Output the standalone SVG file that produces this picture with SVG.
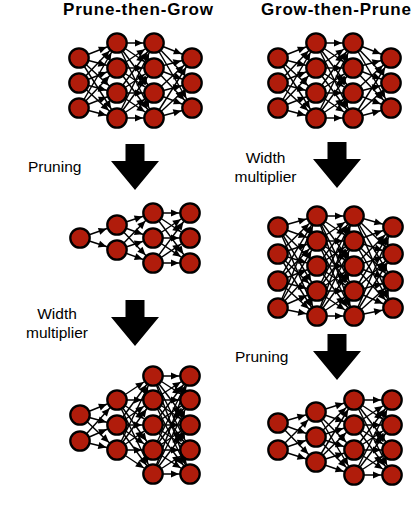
<svg xmlns="http://www.w3.org/2000/svg" width="414" height="522" viewBox="0 0 414 522">
<style>
.t{font-family:"Liberation Sans",Arial,sans-serif;font-weight:bold;font-size:17px;fill:#000}
.l{font-family:"Liberation Sans",Arial,sans-serif;font-size:15.5px;fill:#000}
.cx path{stroke:#000;stroke-width:1.45;fill:none;marker-end:url(#ah)}
.n circle{fill:#b01c0b;stroke:#000;stroke-width:2.3}
.big{fill:#000}
</style>
<defs>
<marker id="ah" markerUnits="userSpaceOnUse" markerWidth="10" markerHeight="10" refX="11" refY="0" orient="auto" overflow="visible"><path d="M-8,-3.6L0,0L-8,3.6z" fill="#000"/></marker>
<path id="bigArrow" d="M-9.5,-46H9.5V-29H24L0,0L-24,-29H-9.5Z"/>
</defs>
<rect width="414" height="522" fill="#fff"/>
<text class="t" x="138" y="15" text-anchor="middle" textLength="150" lengthAdjust="spacing">Prune-then-Grow</text>
<text class="t" x="336" y="15" text-anchor="middle" textLength="150" lengthAdjust="spacing">Grow-then-Prune</text>
<g id="connectors" class="cx">
<g id="tl-edges">
<path d="M79 58L117 43"/><path d="M79 58L117 68"/><path d="M79 58L117 93"/><path d="M79 58L117 118"/>
<path d="M79 83L117 43"/><path d="M79 83L117 68"/><path d="M79 83L117 93"/><path d="M79 83L117 118"/>
<path d="M79 108L117 43"/><path d="M79 108L117 68"/><path d="M79 108L117 93"/><path d="M79 108L117 118"/>
<path d="M117 43L154 43"/><path d="M117 43L154 68"/><path d="M117 43L154 93"/><path d="M117 43L154 118"/>
<path d="M117 68L154 43"/><path d="M117 68L154 68"/><path d="M117 68L154 93"/><path d="M117 68L154 118"/>
<path d="M117 93L154 43"/><path d="M117 93L154 68"/><path d="M117 93L154 93"/><path d="M117 93L154 118"/>
<path d="M117 118L154 43"/><path d="M117 118L154 68"/><path d="M117 118L154 93"/><path d="M117 118L154 118"/>
<path d="M154 43L192 58"/><path d="M154 43L192 83"/><path d="M154 43L192 108"/>
<path d="M154 68L192 58"/><path d="M154 68L192 83"/><path d="M154 68L192 108"/>
<path d="M154 93L192 58"/><path d="M154 93L192 83"/><path d="M154 93L192 108"/>
<path d="M154 118L192 58"/><path d="M154 118L192 83"/><path d="M154 118L192 108"/>
</g>
<g id="tr-edges" transform="translate(199,0)">
<path d="M79 58L117 43"/><path d="M79 58L117 68"/><path d="M79 58L117 93"/><path d="M79 58L117 118"/>
<path d="M79 83L117 43"/><path d="M79 83L117 68"/><path d="M79 83L117 93"/><path d="M79 83L117 118"/>
<path d="M79 108L117 43"/><path d="M79 108L117 68"/><path d="M79 108L117 93"/><path d="M79 108L117 118"/>
<path d="M117 43L154 43"/><path d="M117 43L154 68"/><path d="M117 43L154 93"/><path d="M117 43L154 118"/>
<path d="M117 68L154 43"/><path d="M117 68L154 68"/><path d="M117 68L154 93"/><path d="M117 68L154 118"/>
<path d="M117 93L154 43"/><path d="M117 93L154 68"/><path d="M117 93L154 93"/><path d="M117 93L154 118"/>
<path d="M117 118L154 43"/><path d="M117 118L154 68"/><path d="M117 118L154 93"/><path d="M117 118L154 118"/>
<path d="M154 43L192 58"/><path d="M154 43L192 83"/><path d="M154 43L192 108"/>
<path d="M154 68L192 58"/><path d="M154 68L192 83"/><path d="M154 68L192 108"/>
<path d="M154 93L192 58"/><path d="M154 93L192 83"/><path d="M154 93L192 108"/>
<path d="M154 118L192 58"/><path d="M154 118L192 83"/><path d="M154 118L192 108"/>
</g>
<g id="ml-edges">
<path d="M80 238L117 225"/><path d="M80 238L117 250"/>
<path d="M117 225L153 213"/><path d="M117 225L153 238"/><path d="M117 225L153 263"/>
<path d="M117 250L153 213"/><path d="M117 250L153 238"/><path d="M117 250L153 263"/>
<path d="M153 213L190 213"/><path d="M153 213L190 238"/><path d="M153 213L190 263"/>
<path d="M153 238L190 213"/><path d="M153 238L190 238"/><path d="M153 238L190 263"/>
<path d="M153 263L190 213"/><path d="M153 263L190 238"/><path d="M153 263L190 263"/>
</g>
<g id="mr-edges">
<path d="M278 227L317 216"/><path d="M278 227L317 241"/><path d="M278 227L317 266"/><path d="M278 227L317 291"/><path d="M278 227L317 316"/>
<path d="M278 254L317 216"/><path d="M278 254L317 241"/><path d="M278 254L317 266"/><path d="M278 254L317 291"/><path d="M278 254L317 316"/>
<path d="M278 281L317 216"/><path d="M278 281L317 241"/><path d="M278 281L317 266"/><path d="M278 281L317 291"/><path d="M278 281L317 316"/>
<path d="M278 308L317 216"/><path d="M278 308L317 241"/><path d="M278 308L317 266"/><path d="M278 308L317 291"/><path d="M278 308L317 316"/>
<path d="M317 216L354 216"/><path d="M317 216L354 241"/><path d="M317 216L354 266"/><path d="M317 216L354 291"/><path d="M317 216L354 316"/>
<path d="M317 241L354 216"/><path d="M317 241L354 241"/><path d="M317 241L354 266"/><path d="M317 241L354 291"/><path d="M317 241L354 316"/>
<path d="M317 266L354 216"/><path d="M317 266L354 241"/><path d="M317 266L354 266"/><path d="M317 266L354 291"/><path d="M317 266L354 316"/>
<path d="M317 291L354 216"/><path d="M317 291L354 241"/><path d="M317 291L354 266"/><path d="M317 291L354 291"/><path d="M317 291L354 316"/>
<path d="M317 316L354 216"/><path d="M317 316L354 241"/><path d="M317 316L354 266"/><path d="M317 316L354 291"/><path d="M317 316L354 316"/>
<path d="M354 216L393 227"/><path d="M354 216L393 254"/><path d="M354 216L393 281"/><path d="M354 216L393 308"/>
<path d="M354 241L393 227"/><path d="M354 241L393 254"/><path d="M354 241L393 281"/><path d="M354 241L393 308"/>
<path d="M354 266L393 227"/><path d="M354 266L393 254"/><path d="M354 266L393 281"/><path d="M354 266L393 308"/>
<path d="M354 291L393 227"/><path d="M354 291L393 254"/><path d="M354 291L393 281"/><path d="M354 291L393 308"/>
<path d="M354 316L393 227"/><path d="M354 316L393 254"/><path d="M354 316L393 281"/><path d="M354 316L393 308"/>
</g>
<g id="bl-edges">
<path d="M80 415L117 400"/><path d="M80 415L117 425"/><path d="M80 415L117 450"/>
<path d="M80 441L117 400"/><path d="M80 441L117 425"/><path d="M80 441L117 450"/>
<path d="M117 400L153 376"/><path d="M117 400L153 400"/><path d="M117 400L153 425"/><path d="M117 400L153 450"/><path d="M117 400L153 474"/>
<path d="M117 425L153 376"/><path d="M117 425L153 400"/><path d="M117 425L153 425"/><path d="M117 425L153 450"/><path d="M117 425L153 474"/>
<path d="M117 450L153 376"/><path d="M117 450L153 400"/><path d="M117 450L153 425"/><path d="M117 450L153 450"/><path d="M117 450L153 474"/>
<path d="M153 376L190 376"/><path d="M153 376L190 400"/><path d="M153 376L190 425"/><path d="M153 376L190 450"/><path d="M153 376L190 474"/>
<path d="M153 400L190 376"/><path d="M153 400L190 400"/><path d="M153 400L190 425"/><path d="M153 400L190 450"/><path d="M153 400L190 474"/>
<path d="M153 425L190 376"/><path d="M153 425L190 400"/><path d="M153 425L190 425"/><path d="M153 425L190 450"/><path d="M153 425L190 474"/>
<path d="M153 450L190 376"/><path d="M153 450L190 400"/><path d="M153 450L190 425"/><path d="M153 450L190 450"/><path d="M153 450L190 474"/>
<path d="M153 474L190 376"/><path d="M153 474L190 400"/><path d="M153 474L190 425"/><path d="M153 474L190 450"/><path d="M153 474L190 474"/>
</g>
<g id="br-edges">
<path d="M278 423L316 412"/><path d="M278 423L316 437"/><path d="M278 423L316 462"/>
<path d="M278 450L316 412"/><path d="M278 450L316 437"/><path d="M278 450L316 462"/>
<path d="M316 412L354 400"/><path d="M316 412L354 425"/><path d="M316 412L354 450"/><path d="M316 412L354 475"/>
<path d="M316 437L354 400"/><path d="M316 437L354 425"/><path d="M316 437L354 450"/><path d="M316 437L354 475"/>
<path d="M316 462L354 400"/><path d="M316 462L354 425"/><path d="M316 462L354 450"/><path d="M316 462L354 475"/>
<path d="M354 400L392 400"/><path d="M354 400L392 425"/><path d="M354 400L392 450"/><path d="M354 400L392 475"/>
<path d="M354 425L392 400"/><path d="M354 425L392 425"/><path d="M354 425L392 450"/><path d="M354 425L392 475"/>
<path d="M354 450L392 400"/><path d="M354 450L392 425"/><path d="M354 450L392 450"/><path d="M354 450L392 475"/>
<path d="M354 475L392 400"/><path d="M354 475L392 425"/><path d="M354 475L392 450"/><path d="M354 475L392 475"/>
</g>
</g>
<g id="nodes">
<g id="tl">
<g id="tl-a1" class="n"><circle cx="79" cy="58" r="9.7"/></g>
<g id="tl-a2" class="n"><circle cx="79" cy="83" r="9.7"/></g>
<g id="tl-a3" class="n"><circle cx="79" cy="108" r="9.7"/></g>
<g id="tl-b1" class="n"><circle cx="117" cy="43" r="9.7"/></g>
<g id="tl-b2" class="n"><circle cx="117" cy="68" r="9.7"/></g>
<g id="tl-b3" class="n"><circle cx="117" cy="93" r="9.7"/></g>
<g id="tl-b4" class="n"><circle cx="117" cy="118" r="9.7"/></g>
<g id="tl-c1" class="n"><circle cx="154" cy="43" r="9.7"/></g>
<g id="tl-c2" class="n"><circle cx="154" cy="68" r="9.7"/></g>
<g id="tl-c3" class="n"><circle cx="154" cy="93" r="9.7"/></g>
<g id="tl-c4" class="n"><circle cx="154" cy="118" r="9.7"/></g>
<g id="tl-d1" class="n"><circle cx="192" cy="58" r="9.7"/></g>
<g id="tl-d2" class="n"><circle cx="192" cy="83" r="9.7"/></g>
<g id="tl-d3" class="n"><circle cx="192" cy="108" r="9.7"/></g>
</g>
<g id="tr" transform="translate(199,0)">
<g id="tr-a1" class="n"><circle cx="79" cy="58" r="9.7"/></g>
<g id="tr-a2" class="n"><circle cx="79" cy="83" r="9.7"/></g>
<g id="tr-a3" class="n"><circle cx="79" cy="108" r="9.7"/></g>
<g id="tr-b1" class="n"><circle cx="117" cy="43" r="9.7"/></g>
<g id="tr-b2" class="n"><circle cx="117" cy="68" r="9.7"/></g>
<g id="tr-b3" class="n"><circle cx="117" cy="93" r="9.7"/></g>
<g id="tr-b4" class="n"><circle cx="117" cy="118" r="9.7"/></g>
<g id="tr-c1" class="n"><circle cx="154" cy="43" r="9.7"/></g>
<g id="tr-c2" class="n"><circle cx="154" cy="68" r="9.7"/></g>
<g id="tr-c3" class="n"><circle cx="154" cy="93" r="9.7"/></g>
<g id="tr-c4" class="n"><circle cx="154" cy="118" r="9.7"/></g>
<g id="tr-d1" class="n"><circle cx="192" cy="58" r="9.7"/></g>
<g id="tr-d2" class="n"><circle cx="192" cy="83" r="9.7"/></g>
<g id="tr-d3" class="n"><circle cx="192" cy="108" r="9.7"/></g>
</g>
<g id="ml">
<g id="ml-a1" class="n"><circle cx="80" cy="238" r="9.7"/></g>
<g id="ml-b1" class="n"><circle cx="117" cy="225" r="9.7"/></g>
<g id="ml-b2" class="n"><circle cx="117" cy="250" r="9.7"/></g>
<g id="ml-c1" class="n"><circle cx="153" cy="213" r="9.7"/></g>
<g id="ml-c2" class="n"><circle cx="153" cy="238" r="9.7"/></g>
<g id="ml-c3" class="n"><circle cx="153" cy="263" r="9.7"/></g>
<g id="ml-d1" class="n"><circle cx="190" cy="213" r="9.7"/></g>
<g id="ml-d2" class="n"><circle cx="190" cy="238" r="9.7"/></g>
<g id="ml-d3" class="n"><circle cx="190" cy="263" r="9.7"/></g>
</g>
<g id="mr">
<g id="mr-a1" class="n"><circle cx="278" cy="227" r="9.7"/></g>
<g id="mr-a2" class="n"><circle cx="278" cy="254" r="9.7"/></g>
<g id="mr-a3" class="n"><circle cx="278" cy="281" r="9.7"/></g>
<g id="mr-a4" class="n"><circle cx="278" cy="308" r="9.7"/></g>
<g id="mr-b1" class="n"><circle cx="317" cy="216" r="9.7"/></g>
<g id="mr-b2" class="n"><circle cx="317" cy="241" r="9.7"/></g>
<g id="mr-b3" class="n"><circle cx="317" cy="266" r="9.7"/></g>
<g id="mr-b4" class="n"><circle cx="317" cy="291" r="9.7"/></g>
<g id="mr-b5" class="n"><circle cx="317" cy="316" r="9.7"/></g>
<g id="mr-c1" class="n"><circle cx="354" cy="216" r="9.7"/></g>
<g id="mr-c2" class="n"><circle cx="354" cy="241" r="9.7"/></g>
<g id="mr-c3" class="n"><circle cx="354" cy="266" r="9.7"/></g>
<g id="mr-c4" class="n"><circle cx="354" cy="291" r="9.7"/></g>
<g id="mr-c5" class="n"><circle cx="354" cy="316" r="9.7"/></g>
<g id="mr-d1" class="n"><circle cx="393" cy="227" r="9.7"/></g>
<g id="mr-d2" class="n"><circle cx="393" cy="254" r="9.7"/></g>
<g id="mr-d3" class="n"><circle cx="393" cy="281" r="9.7"/></g>
<g id="mr-d4" class="n"><circle cx="393" cy="308" r="9.7"/></g>
</g>
<g id="bl">
<g id="bl-a1" class="n"><circle cx="80" cy="415" r="9.7"/></g>
<g id="bl-a2" class="n"><circle cx="80" cy="441" r="9.7"/></g>
<g id="bl-b1" class="n"><circle cx="117" cy="400" r="9.7"/></g>
<g id="bl-b2" class="n"><circle cx="117" cy="425" r="9.7"/></g>
<g id="bl-b3" class="n"><circle cx="117" cy="450" r="9.7"/></g>
<g id="bl-c1" class="n"><circle cx="153" cy="376" r="9.7"/></g>
<g id="bl-c2" class="n"><circle cx="153" cy="400" r="9.7"/></g>
<g id="bl-c3" class="n"><circle cx="153" cy="425" r="9.7"/></g>
<g id="bl-c4" class="n"><circle cx="153" cy="450" r="9.7"/></g>
<g id="bl-c5" class="n"><circle cx="153" cy="474" r="9.7"/></g>
<g id="bl-d1" class="n"><circle cx="190" cy="376" r="9.7"/></g>
<g id="bl-d2" class="n"><circle cx="190" cy="400" r="9.7"/></g>
<g id="bl-d3" class="n"><circle cx="190" cy="425" r="9.7"/></g>
<g id="bl-d4" class="n"><circle cx="190" cy="450" r="9.7"/></g>
<g id="bl-d5" class="n"><circle cx="190" cy="474" r="9.7"/></g>
</g>
<g id="br">
<g id="br-a1" class="n"><circle cx="278" cy="423" r="9.7"/></g>
<g id="br-a2" class="n"><circle cx="278" cy="450" r="9.7"/></g>
<g id="br-b1" class="n"><circle cx="316" cy="412" r="9.7"/></g>
<g id="br-b2" class="n"><circle cx="316" cy="437" r="9.7"/></g>
<g id="br-b3" class="n"><circle cx="316" cy="462" r="9.7"/></g>
<g id="br-c1" class="n"><circle cx="354" cy="400" r="9.7"/></g>
<g id="br-c2" class="n"><circle cx="354" cy="425" r="9.7"/></g>
<g id="br-c3" class="n"><circle cx="354" cy="450" r="9.7"/></g>
<g id="br-c4" class="n"><circle cx="354" cy="475" r="9.7"/></g>
<g id="br-d1" class="n"><circle cx="392" cy="400" r="9.7"/></g>
<g id="br-d2" class="n"><circle cx="392" cy="425" r="9.7"/></g>
<g id="br-d3" class="n"><circle cx="392" cy="450" r="9.7"/></g>
<g id="br-d4" class="n"><circle cx="392" cy="475" r="9.7"/></g>
</g>
</g>
<g id="steps">
<use href="#bigArrow" class="big" x="135" y="190"/>
<use href="#bigArrow" class="big" x="337" y="188"/>
<use href="#bigArrow" class="big" x="135" y="346"/>
<use href="#bigArrow" class="big" x="337" y="380"/>
<text class="l" x="28" y="172">Pruning</text>
<text class="l" x="265.5" y="163" text-anchor="middle">Width</text>
<text class="l" x="265.5" y="182" text-anchor="middle">multiplier</text>
<text class="l" x="57" y="319" text-anchor="middle">Width</text>
<text class="l" x="57" y="338" text-anchor="middle">multiplier</text>
<text class="l" x="235" y="362">Pruning</text>
</g>
</svg>
